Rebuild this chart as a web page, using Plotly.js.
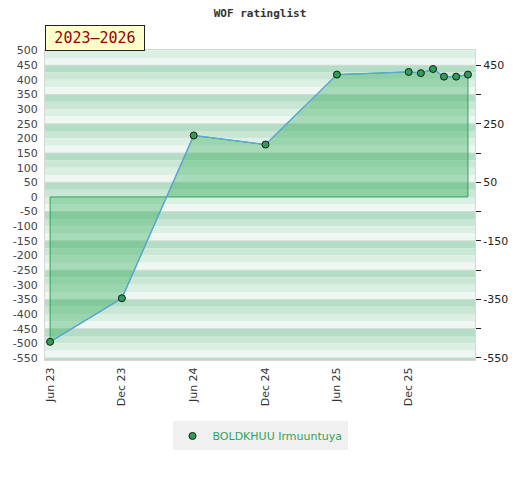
<!DOCTYPE html>
<html>
<head>
<meta charset="utf-8">
<script src="https://cdn.plot.ly/plotly-3.0.1.min.js"></script>
<style>html,body{margin:0;padding:0;background:#fff;}#chart{width:520px;height:480px;}</style>
</head>
<body>
<div id="chart"></div>
<script>
// ---- data ----
const playerName = "BOLDKHUU Irmuuntuya";
const chartTitle = "WOF ratinglist";
const periodLabel = "2023–2026";
const dates = ["2023-06-01","2023-12-01","2024-06-01","2024-12-01","2025-06-01","2025-12-01","2026-01-01","2026-02-01","2026-03-01","2026-04-01","2026-05-01"];
const ratings = [-495, -346, 210, 179, 418, 427, 423, 437, 411, 411, 418];
const leftTicks = [500,450,400,350,300,250,200,150,100,50,0,-50,-100,-150,-200,-250,-300,-350,-400,-450,-500,-550];
const rightTicks = [450,350,250,150,50,-50,-150,-250,-350,-450,-550];
const rightLabels = ["450","","250","","50","","-150","","-350","","-550"];

// ---- style ----
const yRange = [-557, 502];
const xRange = ["2023-05-19","2026-05-19"];
const bandColors = ["#b3ddc4","#c9e7d4","#dcefe3","#eff7f2"];
const shapes = [];
for (let L = 550; L > yRange[0]; L -= 100) {
  for (let i = 0; i < 4; i++) {
    let top = Math.min(L - 25*i, yRange[1]);
    let bot = Math.max(L - 25*(i+1), yRange[0]);
    if (top <= bot) continue;
    shapes.push({type:"rect", xref:"paper", yref:"y", x0:0, x1:1, y0:bot, y1:top,
      fillcolor:bandColors[i], line:{width:0}, layer:"below"});
  }
}
rightTicks.forEach(v => {
  shapes.push({type:"line", xref:"paper", yref:"y", x0:0, x1:1, y0:v, y1:v,
    line:{color:"#d3dad5", width:1}, layer:"below"});
});

const first = dates[0], last = dates[dates.length-1];
const outlineX = [first].concat(dates, [last, first]);
const outlineY = [0].concat(ratings, [0, 0]);

const traces = [
  {x: outlineX, y: outlineY, type:"scatter", mode:"lines", fill:"toself",
   fillcolor:"rgba(50,170,90,0.38)", line:{color:"#2ea55a", width:1}, showlegend:false, hoverinfo:"skip"},
  {x: dates, y: ratings, type:"scatter", mode:"lines", line:{color:"#5aa5e0", width:1.3}, showlegend:false},
  {x: dates, y: ratings, type:"scatter", mode:"markers", name: playerName,
   marker:{color:"#2e9e55", size:7, line:{color:"#1a1a1a", width:1}}},
  {x: [first], y: [0], yaxis:"y2", type:"scatter", mode:"markers", marker:{opacity:0}, showlegend:false, hoverinfo:"skip"}
];

const layout = {
  width:520, height:480,
  margin:{l:45, r:45, t:50, b:120},
  paper_bgcolor:"#ffffff", plot_bgcolor:"#ffffff",
  font:{family:"DejaVu Sans", size:11, color:"#444"},
  title:{text: chartTitle, x:0.5, xanchor:"center", y:1-13/480, yanchor:"middle", yref:"container",
    font:{family:"DejaVu Sans Mono", size:11, color:"#333", weight:"bold"}},
  xaxis:{type:"date", range:xRange, tickformat:"%b %y", dtick:"M6", tick0:"2023-06-01",
    tickangle:-90, showgrid:false, zeroline:false, showline:true, linecolor:"#d8d8d8", mirror:true,
    ticks:"", ticklabelstandoff:2, tickfont:{size:11, color:"#333"}},
  yaxis:{range:yRange, tickvals:leftTicks, ticktext:leftTicks.map(String), showgrid:false, zeroline:false,
    showline:true, linecolor:"#d8d8d8", mirror:true, ticks:"", ticklabelstandoff:4, tickfont:{size:11, color:"#444"}},
  yaxis2:{range:yRange, overlaying:"y", side:"right", tickvals:rightTicks, ticktext:rightLabels,
    showgrid:false, zeroline:false, ticks:"outside", ticklen:5,
    tickcolor:"#222", tickfont:{size:11, color:"#222"}, showline:false},
  shapes: shapes,
  annotations:[{text: periodLabel, xref:"paper", yref:"paper", x:0, y:1, xanchor:"left", yanchor:"bottom",
    yshift:-1, width:92, height:18, showarrow:false, bgcolor:"#ffffcc", bordercolor:"#222", borderwidth:1, borderpad:3,
    font:{family:"DejaVu Sans Mono", size:15, color:"#990000"}}],
  showlegend:true,
  legend:{orientation:"h", x:0.5, xanchor:"center", y:-0.245, yanchor:"middle",
    bgcolor:"#f0f0f0", font:{size:11, color:"#2ea55a"}}
};

Plotly.newPlot("chart", traces, layout, {displayModeBar:false, staticPlot:true});
</script>
</body>
</html>
